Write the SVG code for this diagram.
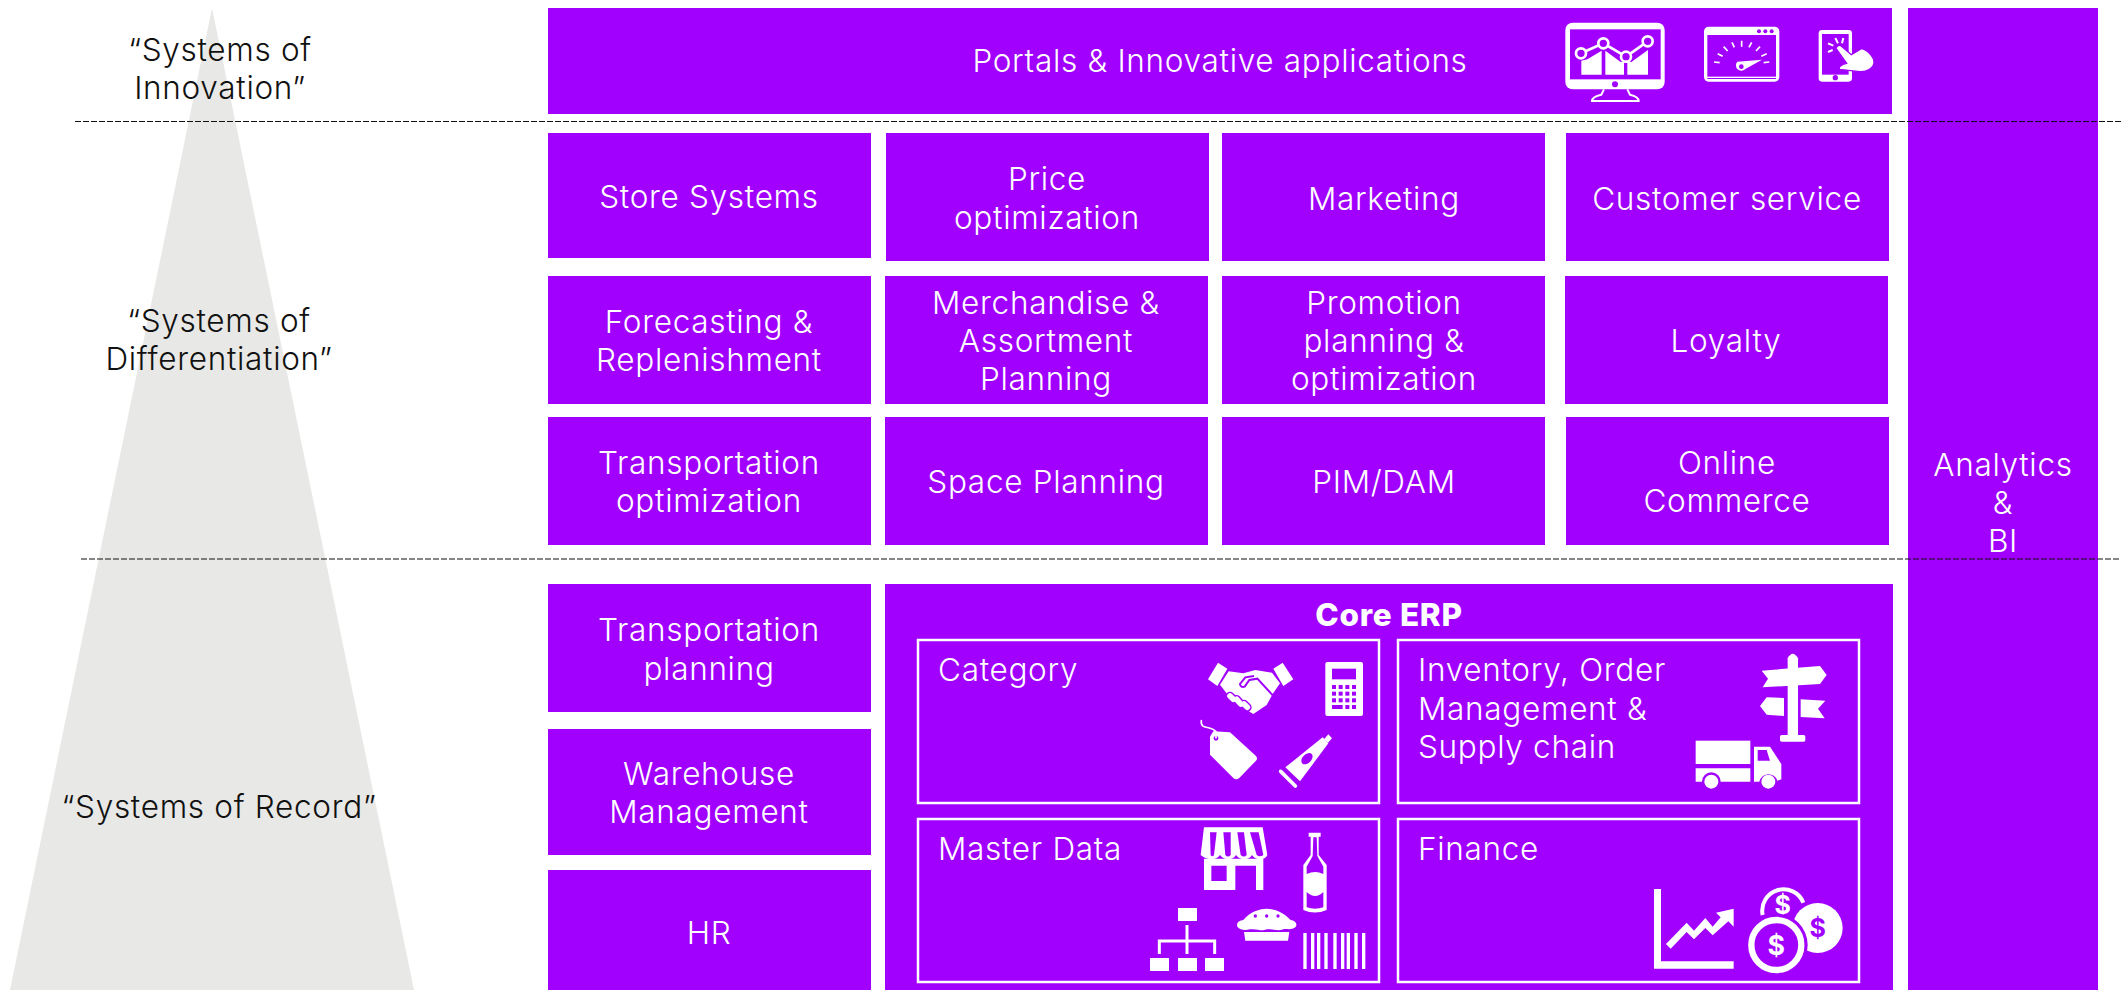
<svg xmlns="http://www.w3.org/2000/svg" width="2121" height="990" viewBox="0 0 2121 990">
<style>
text{font-family:"Inter","Liberation Sans",sans-serif;font-weight:300;font-size:31.5px;letter-spacing:.7px;fill:#fff;text-anchor:middle}
.l{fill:#111}
.s{text-anchor:start}
.b{fill:#a100ff}
.sub{fill:none;stroke:#fff;stroke-width:2.5}
.w{fill:#fff}
.p{fill:#a100ff}
.dash{stroke:#111;stroke-width:1.2;stroke-dasharray:6 2;fill:none}
</style>
<rect width="2121" height="990" fill="#fff"/>
<polygon id="pyramid" points="212,8 10,990 414,990" fill="#e8e8e6"/>
<g id="label-innovation"><text class="l" x="220" y="61">“Systems of</text><text class="l" x="220" y="99">Innovation”</text></g>
<g id="label-differentiation"><text class="l" x="219" y="332">“Systems of</text><text class="l" x="219" y="370">Differentiation”</text></g>
<text id="label-record" class="l" x="219" y="818">“Systems of Record”</text>

<g id="portals"><rect class="b" x="548" y="8" width="1344" height="106"/><text x="1220" y="72">Portals &amp; Innovative applications</text>
<g transform="translate(1500,0) scale(.33333)">
<rect class="w" x="196" y="68" width="298" height="200" rx="22"/><rect class="p" x="210" y="88" width="272" height="150"/><circle class="p" cx="345" cy="253" r="9"/>
<path d="M312 268L304 284Q276 290 276 303H416Q416 290 390 284L382 268" fill="none" stroke="#fff" stroke-width="6"/>
<path class="w" d="M244 224V182L262 178 305 152V224ZM316 224V152L362 186H372V224ZM382 224V186H394L444 150V224Z"/>
<path d="M243 160L310 130 378 170 443 124" fill="none" stroke="#fff" stroke-width="8"/>
<g fill="#a100ff" stroke="#fff" stroke-width="8"><circle cx="243" cy="160" r="15"/><circle cx="310" cy="130" r="15"/><circle cx="378" cy="170" r="15"/><circle cx="443" cy="124" r="15"/></g>
<rect class="w" x="612" y="80" width="226" height="165" rx="14"/><rect class="p" x="622" y="105" width="206" height="125"/><rect class="p" x="622" y="234" width="206" height="3"/>
<circle class="p" cx="777" cy="94" r="6"/><circle class="p" cx="796" cy="94" r="6"/><circle class="p" cx="815" cy="94" r="6"/>
<path d="M642 186L659 188M653 161L668 169M671 140L683 153M696 127L703 142M725 122V140M755 127L747 142M780 140L768 153M800 161L784 169M808 186L791 188" stroke="#fff" stroke-width="5" fill="none"/>
<path class="w" d="M712 185L786 179 736 207A15 15 0 1 1 712 185Z"/><circle class="p" cx="724" cy="200" r="7"/>
<rect class="w" x="956" y="90" width="100" height="155" rx="10"/><rect class="p" x="966" y="102" width="80" height="122"/><circle class="p" cx="1006" cy="233" r="8"/>
<path class="w" stroke="#a100ff" stroke-width="4" d="M1008 145C1012 134 1022 134 1028 142L1054 164 1084 146C1100 148 1122 170 1122 186 1122 204 1100 216 1080 215L1018 208C1016 200 1024 194 1040 190Z"/>
<path d="M1014 130L1006 114M1026 130L1030 114M1000 137L984 130M998 150L984 156" stroke="#fff" stroke-width="6" fill="none"/>
</g></g>

<g id="n-store"><rect class="b" x="548" y="133" width="323" height="125"/><text x="709" y="208">Store Systems</text></g>
<g id="n-price"><rect class="b" x="886" y="133" width="323" height="128"/><text x="1047" y="190">Price</text><text x="1047" y="229">optimization</text></g>
<g id="n-marketing"><rect class="b" x="1222" y="133" width="323" height="128"/><text x="1384" y="210">Marketing</text></g>
<g id="n-customer"><rect class="b" x="1566" y="133" width="323" height="128"/><text x="1727" y="210">Customer service</text></g>

<g id="n-forecast"><rect class="b" x="548" y="276" width="323" height="128"/><text x="709" y="333">Forecasting &amp;</text><text x="709" y="371">Replenishment</text></g>
<g id="n-merch"><rect class="b" x="885" y="276" width="323" height="128"/><text x="1046" y="314">Merchandise &amp;</text><text x="1046" y="352">Assortment</text><text x="1046" y="390">Planning</text></g>
<g id="n-promo"><rect class="b" x="1222" y="276" width="323" height="128"/><text x="1384" y="314">Promotion</text><text x="1384" y="352">planning &amp;</text><text x="1384" y="390">optimization</text></g>
<g id="n-loyalty"><rect class="b" x="1565" y="276" width="323" height="128"/><text x="1726" y="352">Loyalty</text></g>

<g id="n-transopt"><rect class="b" x="548" y="417" width="323" height="128"/><text x="709" y="474">Transportation</text><text x="709" y="512">optimization</text></g>
<g id="n-space"><rect class="b" x="885" y="417" width="323" height="128"/><text x="1046" y="493">Space Planning</text></g>
<g id="n-pim"><rect class="b" x="1222" y="417" width="323" height="128"/><text x="1384" y="493">PIM/DAM</text></g>
<g id="n-online"><rect class="b" x="1566" y="417" width="323" height="128"/><text x="1727" y="474">Online</text><text x="1727" y="512">Commerce</text></g>

<g id="n-transplan"><rect class="b" x="548" y="584" width="323" height="128"/><text x="709" y="641">Transportation</text><text x="709" y="680">planning</text></g>
<g id="n-wms"><rect class="b" x="548" y="729" width="323" height="126"/><text x="709" y="785">Warehouse</text><text x="709" y="823">Management</text></g>
<g id="n-hr"><rect class="b" x="548" y="870" width="323" height="120"/><text x="709" y="944">HR</text></g>

<g id="n-analytics"><rect class="b" x="1908" y="8" width="190" height="982"/><text x="2003" y="476">Analytics</text><text x="2003" y="514">&amp;</text><text x="2003" y="552">BI</text></g>

<g id="n-erp"><rect class="b" x="885" y="584" width="1008" height="406"/><text x="1389" y="626" style="font-weight:800">Core ERP</text></g>

<g id="n-category"><rect class="sub" x="918" y="640" width="461" height="163"/><text class="s" x="938" y="681">Category</text>
<g transform="translate(900,590) scale(.33333)">
<path class="w" d="M924 268L954 218 982 236 952 288ZM1180 268L1150 288 1120 236 1148 218Z"/>
<path class="w" d="M960 284L986 244 1030 250 1066 240 1116 248 1140 280 1118 312 1100 345 1060 372 1000 335 972 300Z"/>
<path d="M1062 258L1036 262 1020 282Q1022 294 1034 290L1048 270 1072 266 1120 318" fill="none" stroke="#a100ff" stroke-width="6"/>
<path d="M990 318L1000 328M1010 328L1022 342M1032 342L1042 352" fill="none" stroke="#a100ff" stroke-width="26" stroke-linecap="round"/>
<path d="M990 318L1000 328M1010 328L1022 342M1032 342L1042 352" fill="none" stroke="#fff" stroke-width="17" stroke-linecap="round"/>
<rect class="w" x="1276" y="216" width="113" height="162" rx="6"/><rect class="p" x="1296" y="236" width="72" height="32"/>
<g class="p"><rect x="1296" y="285" width="12" height="12"/><rect x="1316" y="285" width="12" height="12"/><rect x="1336" y="285" width="12" height="12"/><rect x="1356" y="285" width="12" height="12"/><rect x="1296" y="305" width="12" height="12"/><rect x="1316" y="305" width="12" height="12"/><rect x="1336" y="305" width="12" height="12"/><rect x="1356" y="305" width="12" height="12"/><rect x="1296" y="325" width="12" height="12"/><rect x="1316" y="325" width="12" height="12"/><rect x="1336" y="325" width="12" height="12"/><rect x="1356" y="325" width="12" height="12"/><rect x="1296" y="345" width="32" height="12"/><rect x="1336" y="345" width="12" height="12"/><rect x="1356" y="345" width="12" height="12"/></g>
<path class="w" d="M940 424L990 427 1068 498Q1074 506 1068 512L1018 564Q1008 572 1000 564L930 494 930 440Z"/><circle class="p" cx="948" cy="445" r="7"/>
<path d="M904 392C900 420 930 405 948 425V444" fill="none" stroke="#fff" stroke-width="5" stroke-linecap="round"/>
<path class="w" d="M1156 532L1268 442 1285 460 1200 574Z"/><path d="M1142 544L1186 588" stroke="#fff" stroke-width="11" stroke-linecap="round"/><path class="w" d="M1272 448L1285 433 1296 445 1284 458Z"/>
<ellipse class="p" cx="1221" cy="506" rx="20" ry="13" transform="rotate(-45 1221 506)"/>
</g></g>

<g id="n-inventory"><rect class="sub" x="1398" y="640" width="461" height="163"/><text class="s" x="1418" y="681">Inventory, Order</text><text class="s" x="1418" y="720">Management &amp;</text><text class="s" x="1418" y="758">Supply chain</text>
<g transform="translate(1390,630) scale(.33333)">
<path class="w" d="M1193 325V85Q1208 58 1224 85V325Z"/><rect class="w" x="1170" y="315" width="76" height="20" rx="5"/>
<path class="w" d="M1115 122L1290 108 1310 135 1290 162 1118 172 1134 146Z"/>
<path class="w" d="M1110 228L1130 202 1182 204V258L1130 254ZM1232 208L1306 212 1284 236 1304 265 1232 261Z"/>
<rect class="w" x="917" y="332" width="164" height="70"/><path class="w" d="M917 415H1081V455H992A28 28 0 0 0 936 455H917Z"/>
<path class="w" d="M1092 350H1140L1174 402V448L1162 452A28 28 0 0 0 1108 455H1092Z"/><path class="p" d="M1103 360H1130L1140 392H1103Z"/>
<circle class="w" cx="964" cy="455" r="21"/><circle class="w" cx="1135" cy="455" r="21"/>
</g></g>

<g id="n-master"><rect class="sub" x="918" y="819" width="461" height="163"/><text class="s" x="938" y="860">Master Data</text>
<g transform="translate(900,800) scale(.33333)">
<path class="w" fill-rule="evenodd" d="M912 176H1090V270H1068V197H1006V270H912ZM934 197V243H980V197Z"/>
<path class="w" d="M912 82H1088L1102 165Q1096 178 1080 178 1065 178 1056 165 1048 178 1033 178 1018 178 1008 165 1000 178 985 178 970 178 960 165 950 178 935 178 918 178 902 165Z"/>
<g class="p"><path d="M930 97H950L942 165Q938 172 932 166Z"/><path d="M970 97H992L992 165Q984 174 976 165Z"/><path d="M1012 97H1032L1040 165Q1032 174 1022 165Z"/><path d="M1050 97H1076L1090 165Q1080 172 1070 165Z"/></g>
<path class="w" d="M1226 98H1262V110H1256V165L1280 195V330Q1245 345 1210 330V195L1232 165V110H1226Z"/>
<path class="p" d="M1240 112H1250L1252 168 1270 200V222Q1246 210 1220 222V200L1238 168ZM1220 276Q1246 300 1270 276V322Q1245 330 1220 322Z"/>
<rect class="w" x="834" y="324" width="57" height="39"/><rect class="w" x="750" y="474" width="57" height="39"/><rect class="w" x="834" y="474" width="57" height="39"/><rect class="w" x="915" y="474" width="57" height="39"/>
<path d="M861 375V462M778 462V423H944V462" fill="none" stroke="#fff" stroke-width="9"/>
<path class="w" d="M1030 360C1050 335 1080 326 1100 326 1120 326 1150 335 1172 360 1186 362 1194 372 1186 382 1172 392 1160 385 1150 388 1130 395 1115 385 1100 388 1085 395 1070 385 1050 388 1035 392 1020 390 1012 380 1008 368 1018 362 1030 360Z"/>
<path class="w" d="M1032 396H1168L1164 422H1036Z"/>
<g class="p"><circle cx="1066" cy="348" r="5"/><circle cx="1100" cy="348" r="5"/><circle cx="1134" cy="348" r="5"/></g>
<path d="M1215 399V507M1238 399V507M1256 399V507M1278 399V507M1305 399V507M1328 399V507M1345 399V507M1368 399V507M1391 399V507" stroke="#fff" fill="none" stroke-width="10"/>
</g></g>

<g id="n-finance"><rect class="sub" x="1398" y="819" width="461" height="163"/><text class="s" x="1418" y="860">Finance</text>
<g transform="translate(1390,800) scale(.33333)">
<path class="w" d="M792 267H813V484H1031V506H792Z"/>
<path class="w" d="M828 432L890 368 912 392 946 354 968 380 992 352 978 338 1031 326V380L1015 364 968 406 946 384 912 418 890 396 842 446Z"/>
<circle class="w" cx="1283" cy="384" r="75"/>
<path d="M1118 345A64 64 0 0 1 1240 308" fill="none" stroke="#fff" stroke-width="12"/>
<text x="1178" y="343" style="font-size:75px;font-weight:700;letter-spacing:0">$</text>
<circle cx="1159" cy="435" r="94" fill="#a100ff"/>
<circle cx="1159" cy="435" r="75" fill="#a100ff" stroke="#fff" stroke-width="19"/>
<text x="1283" y="412" style="font-size:75px;font-weight:700;fill:#a100ff;letter-spacing:0">$</text>
<text x="1159" y="465" style="font-size:80px;font-weight:700;letter-spacing:0">$</text>
</g></g>

<g id="connectors"><path d="M75 121.5H2121" class="dash" style="stroke-width:1"/><path class="dash" d="M81 559H2121"/></g>
</svg>
